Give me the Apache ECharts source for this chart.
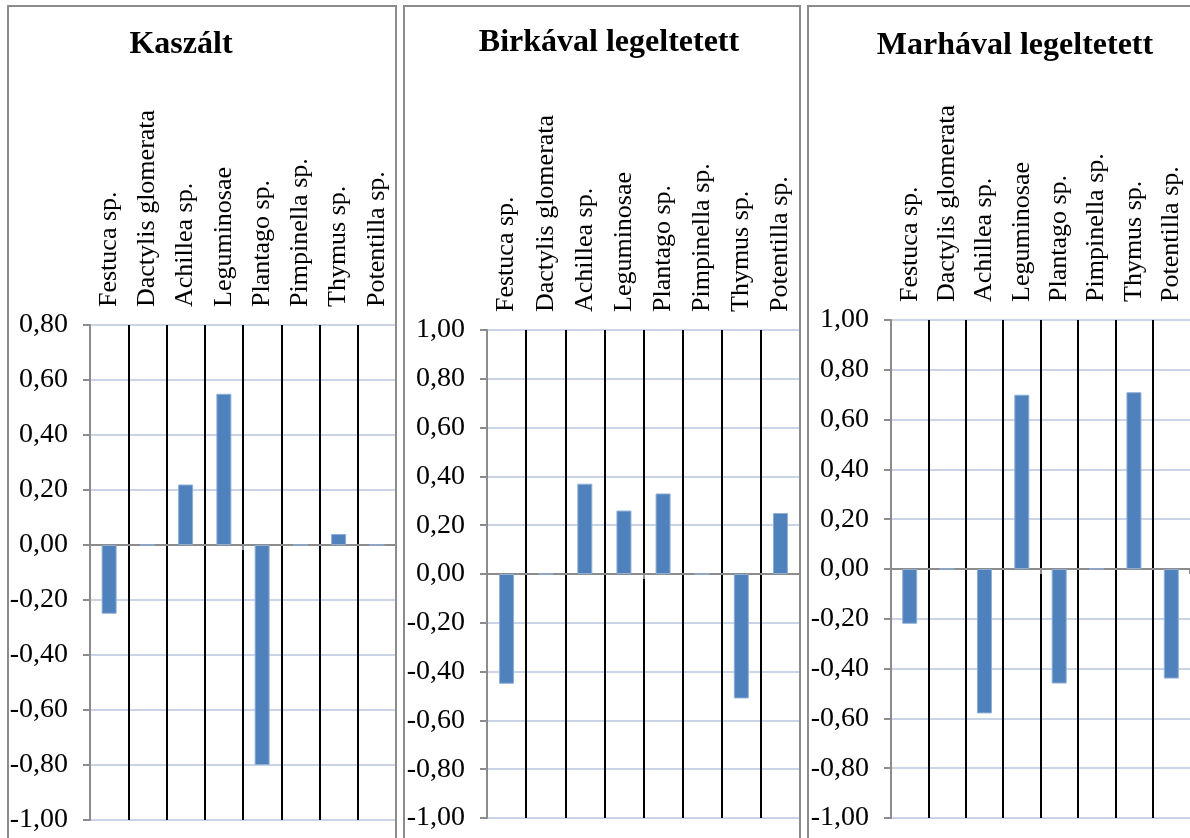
<!DOCTYPE html>
<html>
<head>
<meta charset="utf-8">
<script src="https://cdn.jsdelivr.net/npm/echarts@6/dist/echarts.min.js"></script>
<style>
html,body{margin:0;padding:0;background:#fff;}
#c{width:1190px;height:838px;}
</style>
</head>
<body>
<div id="c"></div>
<script>
const categories = ['Festuca sp.', 'Dactylis glomerata', 'Achillea sp.', 'Leguminosae', 'Plantago sp.', 'Pimpinella sp.', 'Thymus sp.', 'Potentilla sp.'];
const panelTitles = ['Kaszált', 'Birkával legeltetett', 'Marhával legeltetett'];
const kaszalt = [-0.25, 0, 0.22, 0.55, -0.80, 0, 0.04, 0];
const birkaval = [-0.45, 0, 0.37, 0.26, 0.33, 0, -0.51, 0.25];
const marhaval = [-0.22, 0, -0.58, 0.70, -0.46, 0, 0.71, -0.44];
const yMin = [-1.0, -1.0, -1.0];
const yMax = [0.8, 1.0, 1.0];
const yStep = 0.2;

const seriesData = [kaszalt, birkaval, marhaval];

// layout (positions only)
const grids = [
  {left: 90, top: 325, width: 306, height: 495},
  {left: 487, top: 330, width: 313, height: 488},
  {left: 891, top: 320, width: 304, height: 498}
];
const panels = [
  {x: 8, y: 6, w: 388, h: 840},
  {x: 404, y: 6, w: 396, h: 840},
  {x: 808, y: 6, w: 400, h: 840}
];
const titlePos = [{x: 181, y: 29}, {x: 609, y: 27}, {x: 1015, y: 30}];

const FONT = "'Liberation Serif', 'Times New Roman', serif";
const axisGrey = '#8C8C8C';

const chart = echarts.init(document.getElementById('c'), null, {renderer: 'canvas'});

const option = {
  backgroundColor: '#ffffff',
  animation: false,
  title: panelTitles.map((t, i) => ({
    text: t,
    left: titlePos[i].x,
    top: titlePos[i].y,
    padding: 0,
    textAlign: 'center',
    textStyle: {fontFamily: FONT, fontWeight: 'bold', fontSize: 32, color: '#000'}
  })),
  grid: grids.map(g => ({left: g.left, top: g.top, width: g.width, height: g.height, containLabel: false})),
  xAxis: [].concat(
    grids.map((g, i) => ({
      type: 'category',
      gridIndex: i,
      data: categories,
      position: 'bottom',
      axisLine: {show: true, onZero: true, lineStyle: {color: axisGrey, width: 2}},
      axisTick: {show: true, length: 5, lineStyle: {color: axisGrey, width: 2}},
      axisLabel: {show: false},
      splitLine: {show: false}
    })),
    grids.map((g, i) => ({
      type: 'category',
      gridIndex: i,
      data: categories,
      position: 'top',
      axisLine: {show: false, onZero: false},
      axisTick: {show: false},
      axisLabel: {show: true, rotate: -90, margin: 18, interval: 0, fontFamily: FONT, fontSize: 26, color: '#000'},
      splitLine: {show: true, showMinLine: false, showMaxLine: false, interval: 0, lineStyle: {color: '#000', width: 2}}
    }))
  ),
  yAxis: grids.map((g, i) => ({
    type: 'value',
    gridIndex: i,
    min: yMin[i],
    max: yMax[i],
    interval: yStep,
    axisLine: {show: true, lineStyle: {color: axisGrey, width: 2}},
    axisTick: {show: true, length: 7, lineStyle: {color: axisGrey, width: 2}},
    axisLabel: {
      margin: 22,
      fontFamily: FONT,
      fontSize: 28,
      color: '#000',
      formatter: v => v.toFixed(2).replace('.', ',')
    },
    splitLine: {show: true, lineStyle: {color: '#CAD4E8', width: 2}}
  })),
  series: seriesData.map((d, i) => ({
    type: 'bar',
    xAxisIndex: i,
    yAxisIndex: i,
    data: d,
    barWidth: 15,
    itemStyle: {color: '#4F81BD', borderColor: '#8FAED6', borderWidth: 1},
    z: 3
  })),
  graphic: panels.map(p => ({
    type: 'rect',
    shape: {x: p.x, y: p.y, width: p.w, height: p.h},
    style: {fill: 'none', stroke: '#8C8C8C', lineWidth: 2},
    z: 100,
    silent: true
  }))
};
chart.setOption(option);
</script>
</body>
</html>
